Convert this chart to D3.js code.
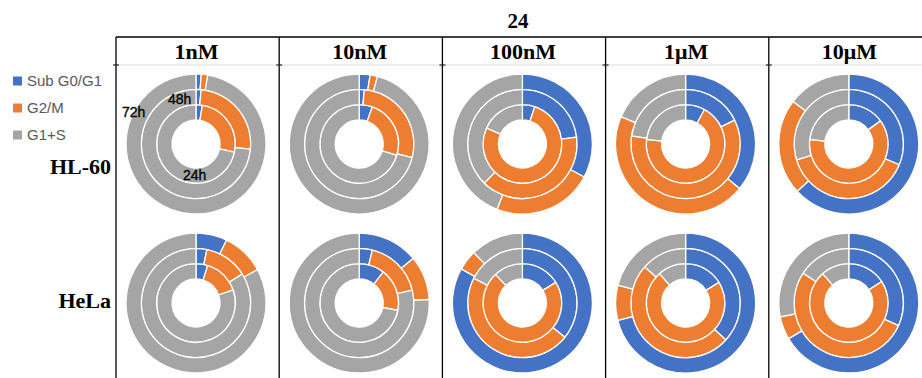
<!DOCTYPE html>
<html>
<head>
<meta charset="utf-8">
<script src="https://cdn.jsdelivr.net/npm/d3@7/dist/d3.min.js"></script>
<style>
  html, body { margin: 0; padding: 0; background: #fff; }
  svg { display: block; }
</style>
</head>
<body>
<svg id="chart" width="922" height="378"></svg>
<script>
// ---- data ----
const title = "24";
const concentrations = ["1nM", "10nM", "100nM", "1μM", "10μM"];
const cellLines = ["HL-60", "HeLa"];
const phases = ["Sub G0/G1", "G2/M", "G1+S"];
const times = ["24h", "48h", "72h"]; // inner -> outer ring
const phaseColors = ["#4472C4", "#ED7D31", "#A5A5A5"];

// percentages per concentration, each [24h, 48h, 72h]
const hl60SubG0 = [[2.6, 1.5, 1.2], [5.4, 1.5, 2.5], [5.1, 23.0, 32.8], [8.0, 17.8, 36.0], [15.0, 31.2, 63.2]];
const hl60G2M   = [[25.7, 25.0, 1.5], [24.3, 27.5, 1.7], [76.6, 39.3, 23.1], [68.9, 59.6, 45.4], [61.9, 39.1, 22.2]];
const hl60G1S   = [[71.7, 73.5, 97.3], [70.3, 71.0, 95.8], [18.3, 37.7, 44.1], [23.1, 22.6, 18.6], [23.1, 29.7, 14.6]];

const helaSubG0 = [[4.8, 3.2, 7.2], [10.5, 3.9, 14.0], [16.2, 35.8, 83.1], [16.2, 36.8, 71.0], [15.8, 31.8, 66.5]];
const helaG2M   = [[14.8, 12.9, 9.9], [17.5, 17.3, 10.2], [71.8, 46.7, 4.7], [72.2, 49.7, 8.1], [72.6, 52.4, 5.3]];
const helaG1S   = [[80.4, 83.9, 82.9], [72.0, 78.8, 75.8], [12.0, 17.5, 12.2], [11.6, 13.5, 20.9], [11.6, 15.8, 28.2]];

const dataByLine = {
  "HL-60": [hl60SubG0, hl60G2M, hl60G1S],
  "HeLa": [helaSubG0, helaG2M, helaG1S]
};

// ---- layout ----
const svg = d3.select("#chart");
const tableLeft = 116, tableTop = 37, headerBottom = 65, W = 922, H = 378;

const xCol = d3.scaleBand().domain(concentrations).range([tableLeft, tableLeft + 5 * 163.2]);
const rowCenters = { "HL-60": 144, "HeLa": 303 };
const rowLabelY = { "HL-60": 166, "HeLa": 300 };

const holeR = 24, outerR = 70;
const rScale = d3.scaleLinear().domain([0, times.length]).range([holeR, outerR]);

const color = d3.scaleOrdinal().domain(phases).range(phaseColors);

// frame
const frame = svg.append("g").attr("stroke", "#000").attr("stroke-width", 1.3);
frame.append("line").attr("x1", tableLeft).attr("x2", W).attr("y1", tableTop).attr("y2", tableTop);
concentrations.forEach(c => {
  frame.append("line").attr("x1", xCol(c)).attr("x2", xCol(c)).attr("y1", tableTop).attr("y2", H);
});
svg.append("line").attr("x1", tableLeft).attr("x2", W).attr("y1", headerBottom).attr("y2", headerBottom)
  .attr("stroke", "#bbb").attr("stroke-width", 0.5);
concentrations.forEach(c => {
  svg.append("line").attr("x1", xCol(c) - 3).attr("x2", xCol(c) + 3)
    .attr("y1", headerBottom).attr("y2", headerBottom).attr("stroke", "#000").attr("stroke-width", 1);
});

// title
svg.append("text").attr("x", (tableLeft + W) / 2 - 1).attr("y", 28)
  .attr("text-anchor", "middle").attr("font-family", "'Liberation Serif', 'Times New Roman', serif")
  .attr("font-weight", "bold").attr("font-size", 21).text(title);

// column headers
svg.selectAll("text.col").data(concentrations).enter().append("text")
  .attr("class", "col")
  .attr("x", d => xCol(d) + xCol.bandwidth() / 2 - 1)
  .attr("y", 59)
  .attr("text-anchor", "middle")
  .attr("font-family", "'Liberation Serif', 'Times New Roman', serif")
  .attr("font-weight", "bold").attr("font-size", 22)
  .text(d => d);

// row labels
svg.selectAll("text.row").data(cellLines).enter().append("text")
  .attr("class", "row")
  .attr("x", 111).attr("y", d => rowLabelY[d] + 8)
  .attr("text-anchor", "end")
  .attr("font-family", "'Liberation Serif', 'Times New Roman', serif")
  .attr("font-weight", "bold").attr("font-size", 22)
  .text(d => d);

// legend
const legY = [81, 108, 135];
const leg = svg.append("g");
phases.forEach((p, i) => {
  leg.append("rect").attr("x", 13).attr("y", legY[i] - 4.5).attr("width", 9).attr("height", 9).attr("fill", color(p));
  leg.append("text").attr("x", 27).attr("y", legY[i] + 5)
    .attr("font-family", "'Liberation Sans', Arial, sans-serif").attr("font-size", 15)
    .attr("fill", "#595959").text(p);
});

// donuts
const pie = d3.pie().sort(null).value(d => d.value);
cellLines.forEach(line => {
  const series = dataByLine[line];
  concentrations.forEach((conc, ci) => {
    const cx = xCol(conc) + 80, cy = rowCenters[line];
    const g = svg.append("g").attr("transform", `translate(${cx},${cy})`);
    times.forEach((t, ti) => {
      const vals = phases.map((p, pi) => ({ phase: p, value: series[pi][ci][ti] }));
      const arc = d3.arc().innerRadius(rScale(ti)).outerRadius(rScale(ti + 1));
      g.selectAll(null).data(pie(vals)).enter().append("path")
        .attr("d", arc)
        .attr("fill", d => color(d.data.phase))
        .attr("stroke", "#fff").attr("stroke-width", 1.3).attr("stroke-linejoin", "round");
    });
  });
});

// ring labels in first chart
const c0x = xCol(concentrations[0]) + 80, c0y = rowCenters["HL-60"];
const ringLabels = [
  { text: "72h", dx: -74, dy: -27 },
  { text: "48h", dx: -28, dy: -40 },
  { text: "24h", dx: -13, dy: 36 }
];
svg.selectAll("text.ring").data(ringLabels).enter().append("text")
  .attr("class", "ring")
  .attr("x", d => c0x + d.dx).attr("y", d => c0y + d.dy)
  .attr("font-family", "'Liberation Sans', Arial, sans-serif").attr("font-size", 14)
  .attr("fill", "#000").attr("stroke", "#000").attr("stroke-width", 0.3).text(d => d.text);
</script>
</body>
</html>
